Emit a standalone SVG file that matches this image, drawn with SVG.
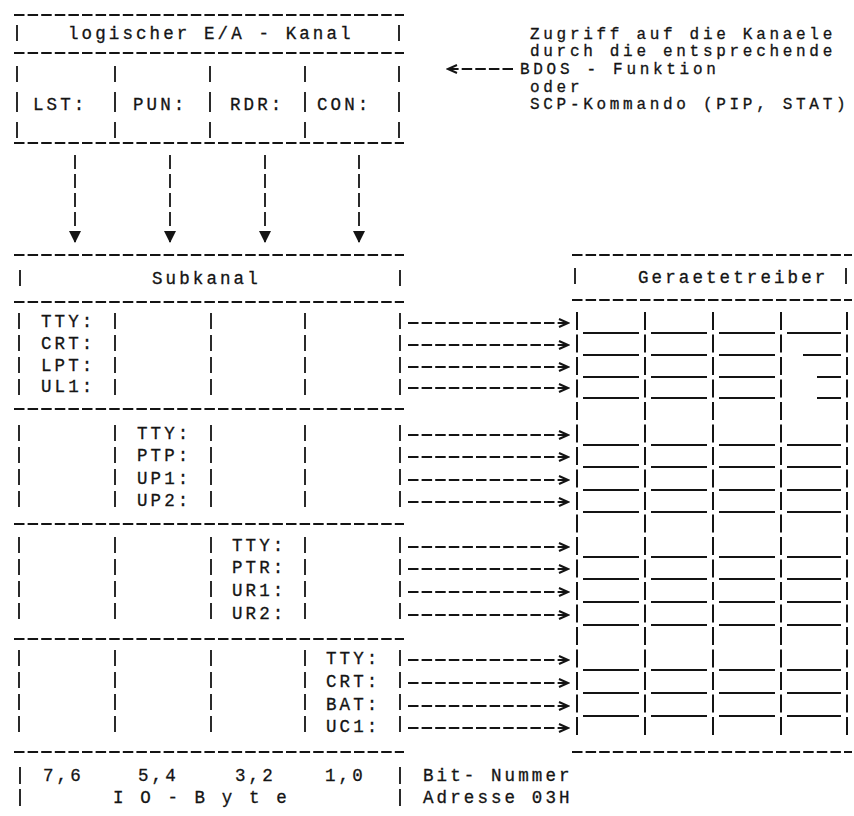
<svg xmlns="http://www.w3.org/2000/svg" width="854" height="816" viewBox="0 0 854 816">
<defs>
<style>
.t{font-family:"Liberation Mono","DejaVu Sans Mono",monospace;font-size:17.5px;letter-spacing:3.1px;fill:#141414;stroke:#141414;stroke-width:0.3}
.n{font-size:16px;letter-spacing:3.7px}
.dl{stroke:#141414;stroke-width:2;stroke-dasharray:10.5 3.1;fill:none}
.vb{stroke:#141414;stroke-width:1.8;stroke-dasharray:16 6;fill:none}
.gv{stroke:#141414;stroke-width:2;stroke-dasharray:18 4.5;fill:none}
.ul{stroke:#141414;stroke-width:2;fill:none}
.ha{stroke:#141414;stroke-width:2;stroke-dasharray:10.5 3.1;fill:none;marker-end:url(#chev)}
.va{stroke:#141414;stroke-width:1.8;stroke-dasharray:14 5;fill:none;marker-end:url(#down)}
</style>
<marker id="chev" markerUnits="userSpaceOnUse" markerWidth="12" markerHeight="10" refX="10" refY="5" orient="auto"><path d="M1,1 L10,5 L1,9" fill="none" stroke="#141414" stroke-width="2"/></marker>
<marker id="down" markerUnits="userSpaceOnUse" markerWidth="12" markerHeight="12" refX="11" refY="6" orient="auto"><path d="M0,0 L12,6 L0,12 Z" fill="#141414"/></marker>
</defs>
<rect width="854" height="816" fill="#fff"/>

<g id="logical-channel">
<path class="dl" d="M14,15 H404 M14,53 H404 M14,143 H404"/>
<path class="vb" d="M17,25 V43 M399,25 V43"/>
<path class="vb" style="stroke-dasharray:16 10 20 10" d="M17,66 V138 M115,66 V138 M210,66 V138 M305,66 V138 M399,66 V138"/>
<text class="t" x="68" y="39">logischer E/A - Kanal</text>
<text class="t" x="33" y="110">LST:</text>
<text class="t" x="133" y="110">PUN:</text>
<text class="t" x="230" y="110">RDR:</text>
<text class="t" x="317" y="110">CON:</text>
</g>

<g id="note">
<text class="t n" x="530" y="39">Zugriff auf die Kanaele</text>
<text class="t n" x="530" y="56">durch die entsprechende</text>
<text class="t n" x="520" y="74">BDOS - Funktion</text>
<text class="t n" x="530" y="92">oder</text>
<text class="t n" x="530" y="109">SCP-Kommando (PIP, STAT)</text>
</g>

<g id="subchannel">
<path class="dl" d="M14,255 H404 M14,302 H404 M14,409 H404 M14,524 H404 M14,639 H404 M14,752 H404"/>
<path class="vb" d="M20,270 V290 M400,270 V290"/>
<text class="t" x="152" y="284">Subkanal</text>
<path class="vb" d="M19,313 V397 M115,313 V397 M211,313 V397 M305,313 V397 M400,313 V397"/>
<path class="vb" d="M19,425 V511 M115,425 V511 M211,425 V511 M305,425 V511 M400,425 V511"/>
<path class="vb" d="M19,537 V624 M115,537 V624 M211,537 V624 M305,537 V624 M400,537 V624"/>
<path class="vb" d="M19,650 V737 M115,650 V737 M211,650 V737 M305,650 V737 M400,650 V737"/>
<text class="t" x="41" y="327">TTY:</text>
<text class="t" x="41" y="349">CRT:</text>
<text class="t" x="41" y="371">LPT:</text>
<text class="t" x="41" y="392">UL1:</text>
<text class="t" x="137" y="439">TTY:</text>
<text class="t" x="137" y="461">PTP:</text>
<text class="t" x="137" y="484">UP1:</text>
<text class="t" x="137" y="506">UP2:</text>
<text class="t" x="232" y="551">TTY:</text>
<text class="t" x="232" y="573">PTR:</text>
<text class="t" x="232" y="596">UR1:</text>
<text class="t" x="232" y="619">UR2:</text>
<text class="t" x="326" y="664">TTY:</text>
<text class="t" x="326" y="687">CRT:</text>
<text class="t" x="326" y="710">BAT:</text>
<text class="t" x="326" y="732">UC1:</text>
</g>

<g id="drivers">
<path class="dl" d="M572,255 H852 M572,300 H852 M572,752 H852"/>
<path class="vb" d="M575,268 V288 M846,268 V288"/>
<text class="t" x="638" y="283">Geraetetreiber</text>
<path class="gv" d="M577,312 V737 M645,312 V737 M713,312 V737 M781,312 V737 M847,312 V737"/>
<path class="ul" d="M583,333 H639 M651,333 H707 M719,333 H775 M787,333 H841
M583,355 H639 M651,355 H707 M719,355 H775 M803,355 H841
M583,377 H639 M651,377 H707 M719,377 H775 M817,377 H841
M583,398 H639 M651,398 H707 M719,398 H775 M817,398 H841
M583,445 H639 M651,445 H707 M719,445 H775 M787,445 H841
M583,467 H639 M651,467 H707 M719,467 H775 M787,467 H841
M583,490 H639 M651,490 H707 M719,490 H775 M787,490 H841
M583,512 H639 M651,512 H707 M719,512 H775 M787,512 H841
M583,557 H639 M651,557 H707 M719,557 H775 M787,557 H841
M583,579 H639 M651,579 H707 M719,579 H775 M787,579 H841
M583,602 H639 M651,602 H707 M719,602 H775 M787,602 H841
M583,625 H639 M651,625 H707 M719,625 H775 M787,625 H841
M583,670 H639 M651,670 H707 M719,670 H775 M787,670 H841
M583,693 H639 M651,693 H707 M719,693 H775 M787,693 H841
M583,716 H639 M651,716 H707 M719,716 H775 M787,716 H841"/>
</g>

<g id="bit-legend">
<path class="vb" style="stroke-dasharray:17 5" d="M20,767 V806 M400,767 V806"/>
<text class="t" x="43" y="781">7,6</text>
<text class="t" x="138" y="781">5,4</text>
<text class="t" x="235" y="781">3,2</text>
<text class="t" x="325" y="781">1,0</text>
<text class="t" x="113" y="803">I O  -  B y t e</text>
<text class="t" x="423" y="781">Bit- Nummer</text>
<text class="t" x="423" y="803">Adresse 03H</text>
</g>

<g id="connectors">
<path class="ha" d="M513,69 H448"/>
<path class="va" d="M75,155 V242"/>
<path class="va" d="M170,155 V242"/>
<path class="va" d="M265,155 V242"/>
<path class="va" d="M359,155 V242"/>
<path class="ha" d="M408,323 H568"/>
<path class="ha" d="M408,345 H568"/>
<path class="ha" d="M408,367 H568"/>
<path class="ha" d="M408,388 H568"/>
<path class="ha" d="M408,435 H568"/>
<path class="ha" d="M408,457 H568"/>
<path class="ha" d="M408,480 H568"/>
<path class="ha" d="M408,502 H568"/>
<path class="ha" d="M408,547 H568"/>
<path class="ha" d="M408,569 H568"/>
<path class="ha" d="M408,592 H568"/>
<path class="ha" d="M408,615 H568"/>
<path class="ha" d="M408,660 H568"/>
<path class="ha" d="M408,683 H568"/>
<path class="ha" d="M408,706 H568"/>
<path class="ha" d="M408,728 H568"/>
</g>
</svg>
